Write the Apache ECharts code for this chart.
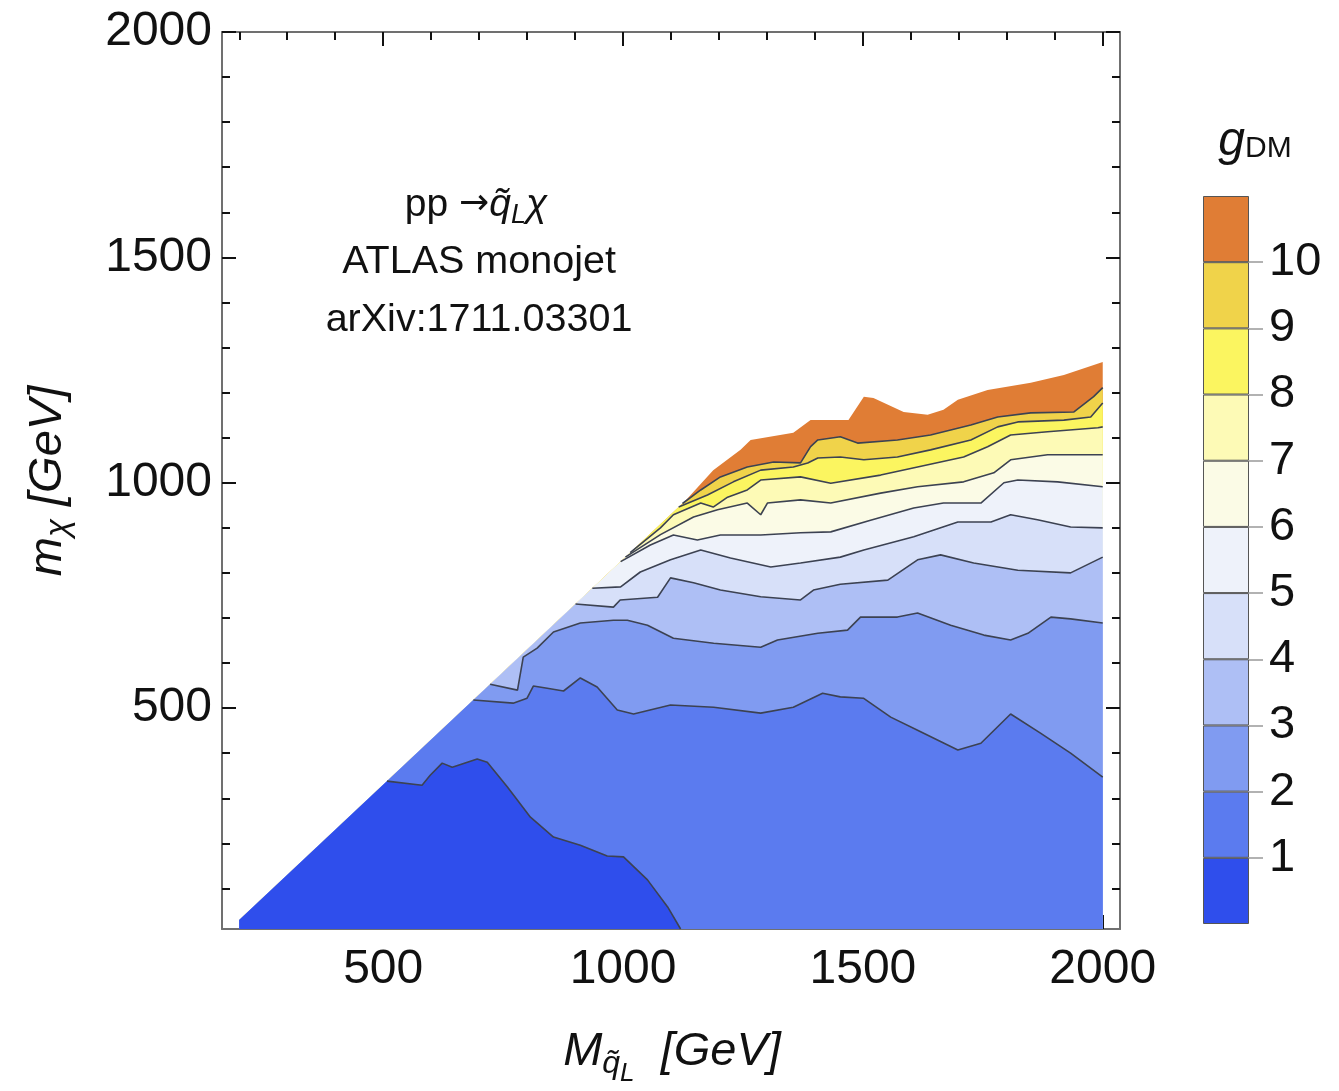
<!DOCTYPE html>
<html>
<head>
<meta charset="utf-8">
<script src="https://cdn.jsdelivr.net/npm/echarts@6/dist/echarts.min.js"></script>
<style>
  html, body { margin: 0; padding: 0; background: #fff; }
  #chart { width: 1339px; height: 1091px; }
</style>
</head>
<body>
<div id="chart"></div>
<script>
// contour boundaries of g_DM, points are [M_qL, m_chi] in GeV
const diagonal = [[200, 30], [1130, 960]];
const topEdge = [[1188, 1028], [1245, 1073], [1266, 1095], [1355, 1111], [1391, 1139], [1470, 1139],
  [1502, 1191], [1522, 1188], [1585, 1157], [1635, 1151], [1668, 1162], [1698, 1184], [1760, 1206],
  [1850, 1222], [1919, 1239], [2000, 1268]];
const b1 = [[508, 338], [581, 329], [598, 351], [623, 378], [644, 369], [696, 387], [717, 380], [759, 325],
  [807, 258], [855, 214], [911, 196], [967, 172], [1001, 170], [1051, 119], [1093, 59], [1120, 10]];
const b2 = [[688, 518], [771, 511], [800, 522], [813, 549], [842, 544], [876, 538], [911, 567], [946, 547],
  [988, 496], [1022, 487], [1099, 507], [1189, 502], [1287, 489], [1355, 502], [1416, 533], [1453, 525],
  [1501, 522], [1558, 480], [1614, 451], [1698, 407], [1746, 422], [1808, 487], [1871, 444], [1933, 400],
  [2000, 347]];
const b3 = [[723, 553], [780, 540], [792, 613], [821, 633], [855, 669], [911, 689], [980, 695], [1009, 695],
  [1051, 684], [1105, 655], [1189, 644], [1287, 635], [1322, 651], [1406, 666], [1468, 673], [1495, 702],
  [1572, 702], [1614, 711], [1683, 684], [1752, 662], [1808, 651], [1844, 666], [1892, 702], [1933, 698],
  [2000, 689]];
const b4 = [[901, 731], [980, 724], [994, 740], [1072, 746], [1099, 789], [1147, 778], [1203, 762],
  [1287, 747], [1370, 740], [1397, 762], [1453, 775], [1552, 784], [1614, 829], [1662, 840], [1731, 822],
  [1823, 806], [1933, 800], [2000, 835]];
const b5 = [[936, 766], [995, 769], [1036, 802], [1099, 829], [1162, 851], [1224, 833], [1308, 813],
  [1370, 822], [1453, 835], [1502, 851], [1606, 880], [1698, 913], [1767, 913], [1808, 929], [1864, 918],
  [1933, 902], [2000, 900]];
const b6 = [[995, 825], [1057, 862], [1105, 884], [1155, 873], [1203, 884], [1287, 884], [1370, 889],
  [1433, 891], [1516, 917], [1606, 944], [1668, 955], [1746, 955], [1794, 1000], [1823, 1006], [1906, 1002],
  [2000, 991]];
const b7 = [[1005, 835], [1078, 885], [1147, 924], [1197, 940], [1259, 955], [1287, 929], [1301, 955],
  [1370, 962], [1433, 955], [1537, 977], [1614, 991], [1710, 1002], [1773, 1022], [1808, 1051], [1885, 1062],
  [2000, 1062]];
const b8 = [[1015, 845], [1078, 900], [1105, 929], [1162, 955], [1188, 946], [1218, 968], [1259, 984],
  [1287, 1006], [1370, 1013], [1433, 999], [1537, 1017], [1614, 1035], [1710, 1057], [1760, 1080],
  [1808, 1106], [1885, 1113], [1990, 1122], [2000, 1124]];
const b9 = [[1116, 946], [1176, 973], [1230, 1002], [1287, 1028], [1355, 1035], [1385, 1044], [1406, 1055],
  [1453, 1057], [1502, 1051], [1572, 1057], [1641, 1073], [1725, 1095], [1781, 1124], [1823, 1135],
  [1919, 1139], [1975, 1146], [2000, 1177]];
const b10 = [[1124, 954], [1162, 984], [1203, 1013], [1259, 1035], [1314, 1046], [1370, 1044], [1391, 1080],
  [1406, 1095], [1453, 1102], [1489, 1088], [1572, 1095], [1641, 1106], [1725, 1128], [1781, 1146],
  [1850, 1155], [1940, 1157], [1981, 1191], [2000, 1211]];
const boundaries = [b1, b2, b3, b4, b5, b6, b7, b8, b9, b10];

const levels = [1, 2, 3, 4, 5, 6, 7, 8, 9, 10];
const bandWidths = [1, 1, 1, 1, 1, 1, 1, 1, 1, 1, 1];
const xMajor = [500, 1000, 1500, 2000];
const xMinor = [200, 300, 400, 500, 600, 700, 800, 900, 1000, 1100, 1200, 1300, 1400, 1500, 1600, 1700,
  1800, 1900, 2000];
const yMajor = [500, 1000, 1500, 2000];
const yMinor = [100, 200, 300, 400, 500, 600, 700, 800, 900, 1000, 1100, 1200, 1300, 1400, 1500, 1600,
  1700, 1800, 1900, 2000];

// one colour per band, lowest g first
const levelColors = ['#2f4eec', '#5b7bef', '#809bf1', '#aebff5', '#d7e0f9', '#eef2fa', '#fbfbe6',
  '#fdfab6', '#fbf560', '#f0d34a', '#e07d35'];

const FONT = 'Liberation Sans';
const chart = echarts.init(document.getElementById('chart'));

// filled bands: paint the highest band first, each lower band on top of it
const fills = [{ edge: diagonal.concat(topEdge), color: levelColors[10] }];
for (let k = boundaries.length; k >= 1; k--) {
  fills.push({ edge: [diagonal[0]].concat(boundaries[k - 1]), color: levelColors[k - 1] });
}
const series = fills.map(f => ({
  type: 'line', xAxisIndex: 0, yAxisIndex: 0, data: f.edge, symbol: 'none', silent: true,
  lineStyle: { opacity: 0 }, areaStyle: { color: f.color, opacity: 1, origin: 'start' }, z: 2
}));
boundaries.forEach(b => series.push({
  type: 'line', xAxisIndex: 0, yAxisIndex: 0, data: b, symbol: 'none', silent: true,
  lineStyle: { color: '#3c4252', width: 1.6 }, z: 3
}));
// colour bar
bandWidths.forEach((w, i) => series.push({
  type: 'bar', xAxisIndex: 4, yAxisIndex: 4, stack: 'bar', data: [w], barWidth: '100%', silent: true,
  itemStyle: { color: levelColors[i], borderColor: '#555', borderWidth: 1 }
}));

const tickStyle = { color: '#111', width: 2 };
const frameStyle = { show: true, onZero: false, lineStyle: { color: '#707070', width: 2 } };
const labelStyle = { fontSize: 48, color: '#111', fontFamily: FONT, formatter: v => String(v) };

function xAx(pos, ticks, len, withLabels) {
  return {
    type: 'value', gridIndex: 0, position: pos, min: 164, max: 2036,
    splitLine: { show: false },
    axisLine: withLabels !== null ? frameStyle : { show: false },
    axisTick: { inside: true, length: len, customValues: ticks, lineStyle: tickStyle },
    axisLabel: withLabels ? Object.assign({ customValues: ticks, margin: 17 }, labelStyle) : { show: false }
  };
}
function yAx(pos, ticks, len, withLabels) {
  return {
    type: 'value', gridIndex: 0, position: pos, min: 10, max: 2000,
    splitLine: { show: false },
    axisLine: withLabels !== null ? frameStyle : { show: false },
    axisTick: { inside: true, length: len, customValues: ticks, lineStyle: tickStyle },
    axisLabel: withLabels ? Object.assign({ customValues: ticks, margin: 10 }, labelStyle) : { show: false }
  };
}

const option = {
  animation: false,
  backgroundColor: '#fff',
  grid: [
    { left: 222, top: 32, width: 898, height: 897 },
    { left: 1203, top: 196, width: 46, height: 728 }
  ],
  xAxis: [
    xAx('bottom', xMajor, 14, true),
    xAx('bottom', xMinor, 8, null),
    xAx('top', xMajor, 14, false),
    xAx('top', xMinor, 8, null),
    { type: 'category', gridIndex: 1, data: ['g'], show: false }
  ],
  yAxis: [
    yAx('left', yMajor, 14, true),
    yAx('left', yMinor, 8, null),
    yAx('right', yMajor, 14, false),
    yAx('right', yMinor, 8, null),
    {
      type: 'value', gridIndex: 1, position: 'right', min: 0, max: 11,
      splitLine: { show: false }, axisLine: { show: false },
      axisTick: { show: true, inside: false, length: 14, customValues: levels, lineStyle: { color: '#999', width: 1.5 } },
      axisLabel: Object.assign({ customValues: levels, margin: 20 }, labelStyle, { fontSize: 47 })
    }
  ],
  graphic: [
    {
      type: 'text', x: 476, y: 205, z: 10,
      style: {
        text: '{n|pp }{a|→}{i|q̃}{s|L}{i|χ}', align: 'center', verticalAlign: 'middle', fill: '#111',
        rich: {
          n: { fontSize: 39, fontFamily: FONT },
          a: { fontSize: 36, fontFamily: 'DejaVu Sans' },
          i: { fontSize: 39, fontFamily: FONT, fontStyle: 'italic' },
          s: { fontSize: 27, fontFamily: FONT, fontStyle: 'italic', padding: [20, 0, 0, 0] }
        }
      }
    },
    {
      type: 'text', x: 479, y: 262, z: 10,
      style: { text: 'ATLAS monojet', align: 'center', verticalAlign: 'middle', fill: '#111', fontSize: 39.5, fontFamily: FONT }
    },
    {
      type: 'text', x: 479, y: 320, z: 10,
      style: { text: 'arXiv:1711.03301', align: 'center', verticalAlign: 'middle', fill: '#111', fontSize: 39.5, fontFamily: FONT }
    },
    {
      type: 'text', x: 672, y: 1052, z: 10,
      style: {
        text: '{m|M}{q|q̃}{l|L}{g|  [GeV]}', align: 'center', verticalAlign: 'middle', fill: '#111',
        rich: {
          m: { fontSize: 47, fontFamily: FONT, fontStyle: 'italic' },
          q: { fontSize: 32, fontFamily: FONT, fontStyle: 'italic', padding: [24, 0, 0, 0] },
          l: { fontSize: 26, fontFamily: FONT, fontStyle: 'italic', padding: [44, 0, 0, 0] },
          g: { fontSize: 47, fontFamily: FONT, fontStyle: 'italic' }
        }
      }
    },
    {
      type: 'text', x: 48, y: 481, rotation: Math.PI / 2, z: 10,
      style: {
        text: '{m|m}{s|χ}{g| [GeV]}', align: 'center', verticalAlign: 'middle', fill: '#111',
        rich: {
          m: { fontSize: 47, fontFamily: FONT, fontStyle: 'italic' },
          s: { fontSize: 33, fontFamily: FONT, fontStyle: 'italic', padding: [22, 0, 0, 0] },
          g: { fontSize: 47, fontFamily: FONT, fontStyle: 'italic' }
        }
      }
    },
    {
      type: 'text', x: 1255, y: 142, z: 10,
      style: {
        text: '{g|g}{s|DM}', align: 'center', verticalAlign: 'middle', fill: '#111',
        rich: {
          g: { fontSize: 48, fontFamily: FONT, fontStyle: 'italic' },
          s: { fontSize: 30, fontFamily: FONT, padding: [14, 0, 0, 0] }
        }
      }
    }
  ],
  series: series
};
chart.setOption(option);
</script>
</body>
</html>
